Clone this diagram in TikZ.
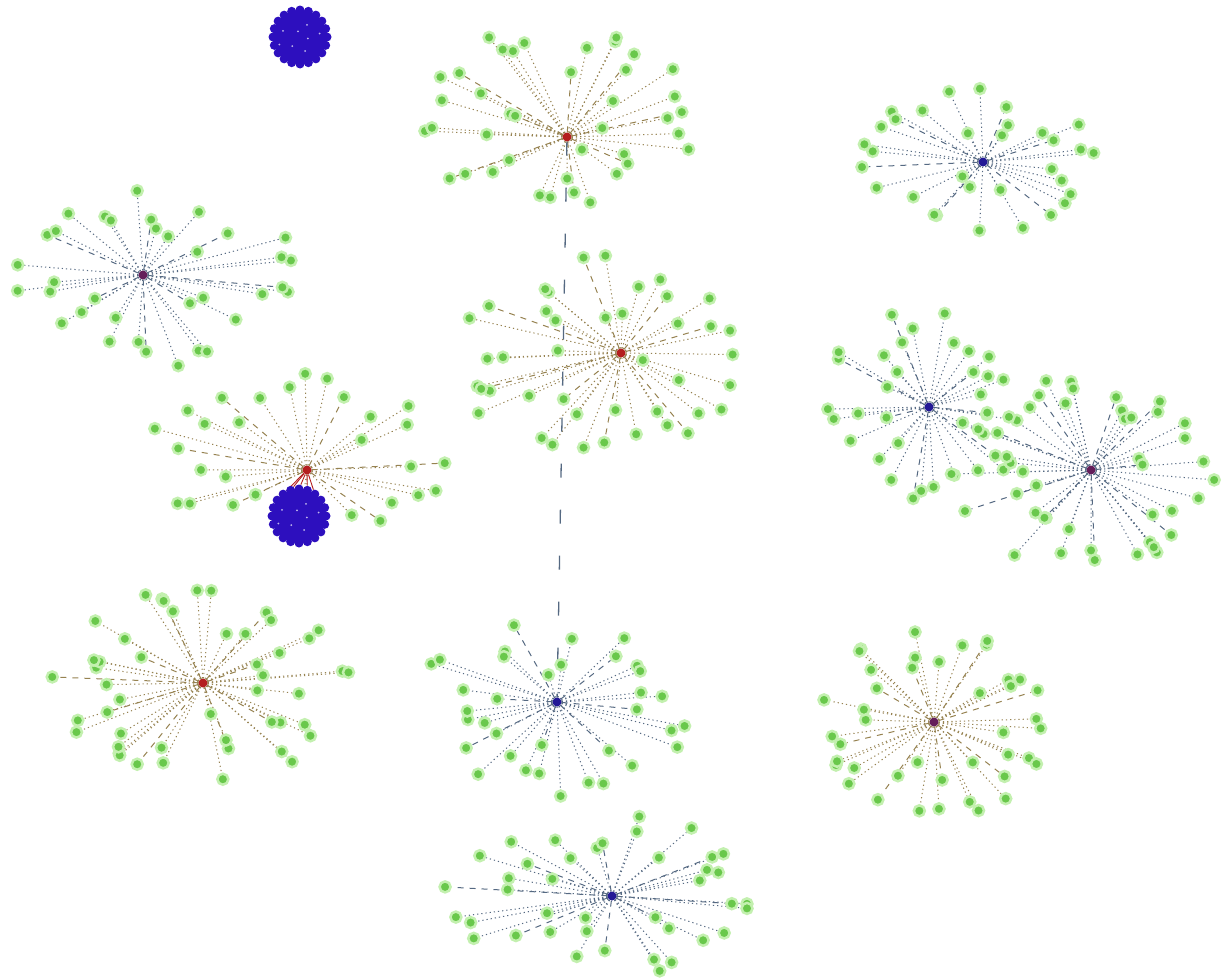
\documentclass[tikz,border=0pt]{standalone}
\usetikzlibrary{backgrounds}
\definecolor{leafg}{RGB}{105,200,75}
\definecolor{leafhalo}{RGB}{195,240,175}
\definecolor{hubred}{RGB}{180,30,30}
\definecolor{hubblue}{RGB}{35,25,150}
\definecolor{hubpurp}{RGB}{100,30,90}
\definecolor{edgered}{RGB}{150,130,80}
\definecolor{edgeblue}{RGB}{85,105,130}
\definecolor{blobblue}{RGB}{45,15,190}
\begin{document}
\begin{tikzpicture}[x=1pt,y=-1pt,
 leaf/.style={circle,fill=leafg,draw=leafhalo,line width=2.5pt,minimum size=11pt,inner sep=0pt},
 hub/.style={circle,minimum size=9pt,inner sep=0pt},
 dotedge/.style={line width=1pt,dash pattern=on 1.2pt off 3pt},
 dashedge/.style={line width=1pt,dash pattern=on 6pt off 6pt},
 longdash/.style={draw=edgeblue,line width=1.3pt,dash pattern=on 14pt off 32pt},
 blob/.style={circle,fill=blobblue,minimum size=54pt,inner sep=0pt},
 bump/.style={circle,fill=blobblue,minimum size=9pt,inner sep=0pt},
 spark/.style={circle,fill=white!70!blobblue,minimum size=2pt,inner sep=0pt}]
\useasboundingbox (0,0) rectangle (1225,977);
\begin{scope}[on background layer]
\fill[white] (0,0) rectangle (1225,977);
\end{scope}
\pgfmathsetseed{4242}
\foreach \c/\hx/\hy/\ex/\ey/\rx/\ry/\cnt/\hc/\ec in {
 1/567/137/560/118/150/92/40/hubred/edgered,
 2/983/162/983/160/125/77/32/hubblue/edgeblue,
 3/143/275/158/278/147/94/35/hubpurp/edgeblue,
 4/621/353/598/360/140/107/42/hubred/edgered,
 5/307/470/300/452/162/82/30/hubred/edgered,
 6/929/407/932/405/114/97/35/hubblue/edgeblue,
 7/1091/470/1083/468/140/105/45/hubpurp/edgeblue,
 8/203/683/200/685/154/97/48/hubred/edgered,
 9/557/702/548/712/145/90/35/hubblue/edgeblue,
 10/934/722/935/725/122/97/42/hubpurp/edgered,
 11/612/896/610/895/167/80/40/hubblue/edgeblue}{
  \foreach \i in {1,...,\cnt}{
    \pgfmathsetmacro\a{360/\cnt*\i+10*rand}
    \pgfmathsetmacro\rr{0.25+0.75*sqrt(rnd)}
    \pgfmathsetmacro\px{\ex+\rx*\rr*cos(\a)}
    \pgfmathsetmacro\py{\ey+\ry*\rr*sin(\a)}
    \node[leaf] (l\c-\i) at (\px,\py) {};
  }
  \node[hub,fill=\hc] (h\c) at (\hx,\hy) {};
  \begin{scope}[on background layer]
  \foreach \i in {1,...,\cnt}{
    \pgfmathtruncatemacro\s{mod(\i,5)}
    \ifnum\s=0
      \draw[dashedge,draw=\ec] (h\c) -- (l\c-\i);
    \else
      \draw[dotedge,draw=\ec] (h\c) -- (l\c-\i);
    \fi
  }
  \end{scope}
}
% blue blobs
\foreach \b/\bx/\by in {1/300/37, 2/299/516}{
  \node[blob] (b\b) at (\bx,\by) {};
  \foreach \k in {0,18,...,342}{
    \node[bump] (b\b-\k) at ({\bx+27*cos(\k)},{\by+27*sin(\k)}) {};
  }
  \foreach \k/\d in {10/8,70/15,130/12,200/18,250/6,300/14,350/20,160/22}{
    \node[spark] (s\b-\k) at ({\bx+\d*cos(\k)},{\by+\d*sin(\k)}) {};
  }
}
\begin{scope}[on background layer]
\foreach \k in {234,252,270,288,306}{
  \draw[hubred,line width=0.9pt] (h5) -- (b2-\k);
}
\draw[longdash] (h1) -- (h9);
\end{scope}
\end{tikzpicture}
\end{document}
